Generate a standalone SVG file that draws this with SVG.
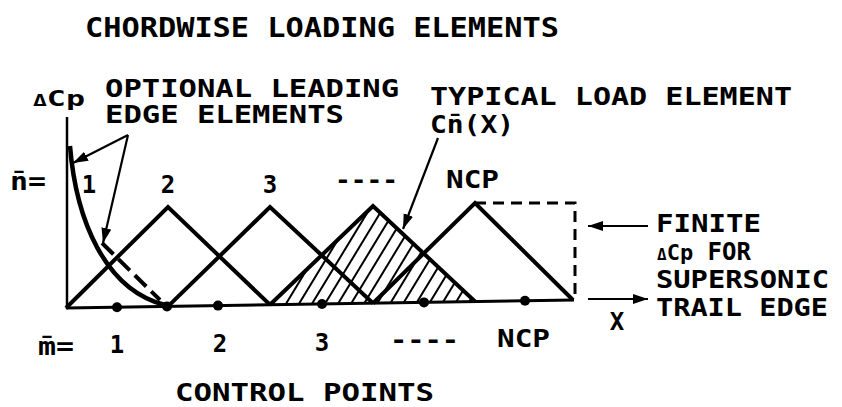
<svg xmlns="http://www.w3.org/2000/svg" width="842" height="407" viewBox="0 0 842 407">
<style>
  text { font-family: "DejaVu Sans Mono", "Liberation Mono", monospace; fill: #000; font-weight: bold; }
  .t { font-size: 24px; }
  .s { font-size: 24px; }
  .el { fill: none; stroke: #000; stroke-width: 4; stroke-linejoin: miter; }
  .hatch { stroke: #000; stroke-width: 2; }
  .arr { fill: none; stroke: #000; stroke-width: 2.2; }
  .dash { fill: none; stroke: #000; stroke-width: 3; stroke-dasharray: 11 7; }
  .dot { fill: #000; }
</style>
<defs>
  <marker id="ah" markerUnits="userSpaceOnUse" markerWidth="16" markerHeight="12" refX="15" refY="5" orient="auto">
    <path d="M0,0 L15,5 L0,10 Z" fill="#000"/>
  </marker>
  <clipPath id="clipT3">
    <polygon points="270,304.8 373,206 475,301.5"/>
  </clipPath>
</defs>
<rect width="842" height="407" fill="#fff"/>

<g id="title">
  <text x="85" y="37" font-size="26" textLength="474" lengthAdjust="spacingAndGlyphs">CHORDWISE LOADING ELEMENTS</text>
</g>

<g id="axes">
  <line x1="67" y1="117" x2="67" y2="309" stroke="#000" stroke-width="2.5"/>
  <line x1="66" y1="308" x2="574" y2="300" stroke="#000" stroke-width="3"/>
  <text x="33" y="106" font-size="22" textLength="52" lengthAdjust="spacingAndGlyphs"><tspan font-size="16">Δ</tspan>Cp</text>
</g>

<g id="hatched-element">
  <g clip-path="url(#clipT3)">
    <line class="hatch" x1="190" y1="312" x2="258" y2="200"/>
    <line class="hatch" x1="203" y1="312" x2="271" y2="200"/>
    <line class="hatch" x1="216" y1="312" x2="284" y2="200"/>
    <line class="hatch" x1="229" y1="312" x2="297" y2="200"/>
    <line class="hatch" x1="242" y1="312" x2="310" y2="200"/>
    <line class="hatch" x1="255" y1="312" x2="323" y2="200"/>
    <line class="hatch" x1="268" y1="312" x2="336" y2="200"/>
    <line class="hatch" x1="281" y1="312" x2="349" y2="200"/>
    <line class="hatch" x1="294" y1="312" x2="362" y2="200"/>
    <line class="hatch" x1="307" y1="312" x2="375" y2="200"/>
    <line class="hatch" x1="320" y1="312" x2="388" y2="200"/>
    <line class="hatch" x1="333" y1="312" x2="401" y2="200"/>
    <line class="hatch" x1="346" y1="312" x2="414" y2="200"/>
    <line class="hatch" x1="359" y1="312" x2="427" y2="200"/>
    <line class="hatch" x1="372" y1="312" x2="440" y2="200"/>
    <line class="hatch" x1="385" y1="312" x2="453" y2="200"/>
    <line class="hatch" x1="398" y1="312" x2="466" y2="200"/>
    <line class="hatch" x1="411" y1="312" x2="479" y2="200"/>
    <line class="hatch" x1="424" y1="312" x2="492" y2="200"/>
    <line class="hatch" x1="437" y1="312" x2="505" y2="200"/>
    <line class="hatch" x1="450" y1="312" x2="518" y2="200"/>
    <line class="hatch" x1="463" y1="312" x2="531" y2="200"/>
  </g>
</g>

<g id="load-elements">
  <polyline class="el" points="66,308 168,207 270,304.8"/>
  <polyline class="el" points="168,306.4 270,207 373,303.2"/>
  <polyline class="el" points="270,304.8 373,206 475,301.5"/>
  <polyline class="el" points="373,303.2 475,203 573,300"/>
  <path class="dash" d="M475,203 L575,203 L575,300"/>
</g>

<g id="leading-edge-elements">
  <path d="M70,146 C76,220 105,290 165,305" fill="none" stroke="#000" stroke-width="4.5"/>
  <line x1="102" y1="243" x2="160" y2="300" stroke="#000" stroke-width="4" stroke-dasharray="16 7"/>
</g>

<g id="control-points">
  <circle class="dot" cx="117" cy="307.2" r="5"/>
  <circle class="dot" cx="167" cy="306.4" r="5"/>
  <circle class="dot" cx="218" cy="305.6" r="5"/>
  <circle class="dot" cx="322" cy="304" r="5"/>
  <circle class="dot" cx="424" cy="302.4" r="5"/>
  <circle class="dot" cx="525" cy="300.8" r="5"/>
</g>

<g id="connectors">
  <line class="arr" x1="128" y1="135" x2="73" y2="163" marker-end="url(#ah)"/>
  <line class="arr" x1="128" y1="135" x2="103" y2="243" marker-end="url(#ah)"/>
  <line class="arr" x1="438" y1="138" x2="403" y2="229" marker-end="url(#ah)"/>
  <line class="arr" x1="648" y1="226" x2="588" y2="226" marker-end="url(#ah)"/>
  <line class="arr" x1="588" y1="299" x2="648" y2="299" marker-end="url(#ah)"/>
</g>

<g id="labels-top">
  <text class="t" x="105" y="97" textLength="294" lengthAdjust="spacingAndGlyphs">OPTIONAL LEADING</text>
  <text class="t" x="105" y="123" textLength="239" lengthAdjust="spacingAndGlyphs">EDGE ELEMENTS</text>
  <text class="t" x="430" y="105" textLength="362" lengthAdjust="spacingAndGlyphs">TYPICAL LOAD ELEMENT</text>
  <text class="t" x="430" y="133" textLength="84" lengthAdjust="spacingAndGlyphs">Cn̄(X)</text>
  <text class="s" x="10" y="190" textLength="36" lengthAdjust="spacingAndGlyphs">n̄=</text>
  <text class="s" x="89" y="193" text-anchor="middle">1</text>
  <text class="s" x="168" y="193" text-anchor="middle">2</text>
  <text class="s" x="270" y="193" text-anchor="middle">3</text>
  <text class="s" x="335" y="188" textLength="63" lengthAdjust="spacingAndGlyphs">----</text>
  <text class="s" x="446" y="188" textLength="53" lengthAdjust="spacingAndGlyphs">NCP</text>
</g>

<g id="labels-right">
  <text class="t" x="656" y="232" textLength="105" lengthAdjust="spacingAndGlyphs">FINITE</text>
  <text class="t" x="657" y="260"><tspan font-size="16">Δ</tspan><tspan font-size="22">Cp</tspan> FOR</text>
  <text class="t" x="656" y="288" textLength="173" lengthAdjust="spacingAndGlyphs">SUPERSONIC</text>
  <text class="t" x="656" y="316" textLength="172" lengthAdjust="spacingAndGlyphs">TRAIL EDGE</text>
  <text class="t" x="617" y="330" text-anchor="middle" font-size="26">X</text>
</g>

<g id="labels-bottom">
  <text class="s" x="38" y="355" font-size="20" textLength="36" lengthAdjust="spacingAndGlyphs">m̄=</text>
  <text class="s" x="117" y="353" text-anchor="middle">1</text>
  <text class="s" x="220" y="352" text-anchor="middle">2</text>
  <text class="s" x="322" y="351" text-anchor="middle">3</text>
  <text class="s" x="390" y="348" textLength="69" lengthAdjust="spacingAndGlyphs">----</text>
  <text class="s" x="497" y="347" textLength="53" lengthAdjust="spacingAndGlyphs">NCP</text>
  <text class="s" x="175" y="401" textLength="259" lengthAdjust="spacingAndGlyphs">CONTROL POINTS</text>
</g>
</svg>
